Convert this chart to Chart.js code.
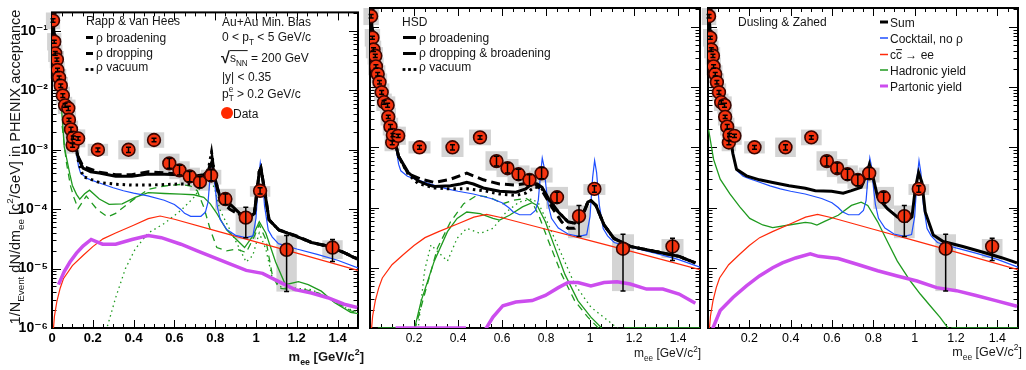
<!DOCTYPE html>
<html><head><meta charset="utf-8">
<script src="https://cdn.jsdelivr.net/npm/chart.js@4.4.1/dist/chart.umd.min.js"></script>
<style>
html,body{margin:0;padding:0;background:#fff;}
body{width:1026px;height:370px;position:relative;overflow:hidden;}
canvas{position:absolute;top:0;}
</style></head>
<body>
<canvas id="c1" width="366" height="370" style="left:0px"></canvas>
<canvas id="c2" width="346" height="370" style="left:362px"></canvas>
<canvas id="c3" width="326" height="370" style="left:700px"></canvas>
<script>
// ---------------- data (m_ee in GeV/c^2, yields) ----------------
const DATA_M = [0.005,0.011,0.016,0.024,0.027,0.035,0.043,0.053,0.064,0.08,0.083,0.093,0.101,0.104,0.128,0.225,0.375,0.5,0.575,0.625,0.675,0.725,0.78,0.85,0.95,1.02,1.15,1.375];
const DATA_Y = [0.15,0.066,0.042,0.033,0.022,0.0164,0.012,0.0082,0.0056,0.005,0.0032,0.0022,0.0012,0.0016,0.00155,0.001,0.001,0.00146,0.00059,0.00045,0.000357,0.000288,0.00037,0.000148,0.000072,0.000204,0.0000207,0.0000226];
const STAT_LO = [0.14,0.062,0.039,0.031,0.0205,0.0153,0.0112,0.0076,0.0052,0.0046,0.003,0.002,0.0011,0.0015,0.00145,0.00093,0.0009,0.00136,0.00049,0.000375,0.00029,0.00023,0.0003,0.00012,0.000033,0.00018,0.0000041,0.0000132];
const STAT_HI = [0.16,0.07,0.045,0.035,0.0235,0.0175,0.0128,0.0088,0.006,0.0054,0.0034,0.0024,0.0013,0.0017,0.00165,0.00107,0.0011,0.00156,0.00071,0.00055,0.00043,0.00035,0.00046,0.00018,0.000108,0.00023,0.000036,0.000031];
const SYS_LO = [0.107,0.047,0.03,0.0236,0.0157,0.0117,0.0086,0.0059,0.004,0.0036,0.0023,0.00157,0.00086,0.00114,0.0011,0.00079,0.00069,0.00108,0.00041,0.00032,0.00025,0.000205,0.00026,0.000095,0.000031,0.000162,0.0000041,0.0000145];
const SYS_HI = [0.21,0.092,0.059,0.046,0.031,0.023,0.0168,0.0115,0.0078,0.007,0.0045,0.0031,0.0017,0.0022,0.0022,0.00126,0.00145,0.00197,0.00086,0.00064,0.0005,0.00041,0.00046,0.00022,0.000108,0.000245,0.000036,0.00003];
const SYS_HW = [0.035,0.035,0.035,0.035,0.035,0.035,0.035,0.035,0.035,0.035,0.035,0.035,0.035,0.035,0.035,0.05,0.05,0.05,0.05,0.05,0.05,0.05,0.05,0.05,0.05,0.05,0.05,0.05];

// curves: [m, log10(yield)]
const LOW_MASS = [[0.003,-0.8],[0.008,-0.95],[0.012,-1.15],[0.016,-1.35],[0.024,-1.5],[0.03,-1.65],[0.035,-1.78],[0.043,-1.93],[0.053,-2.09],[0.064,-2.25],[0.075,-2.4],[0.085,-2.52],[0.095,-2.67],[0.105,-2.8],[0.113,-2.92]];
const COCKTAIL = LOW_MASS.concat([[0.12,-3.05],[0.13,-3.28],[0.14,-3.39],[0.17,-3.48],[0.2,-3.52],[0.233,-3.56],[0.3,-3.64],[0.35,-3.69],[0.4,-3.73],[0.47,-3.775],[0.55,-3.85],[0.6,-3.92],[0.63,-4.0],[0.65,-4.07],[0.68,-4.12],[0.73,-4.12],[0.752,-4.05],[0.765,-3.88],[0.775,-3.45],[0.783,-3.18],[0.79,-3.3],[0.8,-3.65],[0.81,-3.95],[0.825,-4.18],[0.856,-4.34],[0.9,-4.44],[0.95,-4.48],[0.985,-4.45],[1.0,-4.15],[1.012,-3.5],[1.021,-3.22],[1.03,-3.42],[1.042,-3.95],[1.06,-4.35],[1.08,-4.47],[1.11,-4.58],[1.2,-4.67],[1.3,-4.76],[1.4,-4.86],[1.5,-4.99]]);
const CHARM = [[0.005,-6.1],[0.012,-5.8],[0.024,-5.55],[0.04,-5.33],[0.056,-5.17],[0.1,-4.95],[0.152,-4.78],[0.2,-4.63],[0.25,-4.5],[0.312,-4.4],[0.4,-4.27],[0.472,-4.16],[0.53,-4.115],[0.6,-4.17],[0.8,-4.36],[1.0,-4.55],[1.2,-4.74],[1.5,-5.03]];

// Rapp & van Hees
const RVH_BROAD = LOW_MASS.concat([[0.12,-3.0],[0.13,-3.15],[0.152,-3.31],[0.19,-3.37],[0.232,-3.39],[0.312,-3.445],[0.392,-3.445],[0.472,-3.41],[0.552,-3.41],[0.632,-3.42],[0.696,-3.445],[0.744,-3.42],[0.768,-3.34],[0.784,-3.2],[0.8,-3.5],[0.824,-3.8],[0.872,-3.91],[0.92,-4.07],[0.968,-4.13],[0.992,-4.07],[1.005,-3.7],[1.016,-3.37],[1.024,-3.31],[1.04,-3.64],[1.064,-4.18],[1.112,-4.35],[1.192,-4.45],[1.272,-4.56],[1.352,-4.62],[1.432,-4.73],[1.496,-4.84]]);
const RVH_DROP = LOW_MASS.concat([[0.12,-3.0],[0.13,-3.13],[0.152,-3.28],[0.232,-3.38],[0.312,-3.42],[0.392,-3.42],[0.472,-3.37],[0.552,-3.39],[0.632,-3.41],[0.696,-3.46],[0.744,-3.45],[0.768,-3.34],[0.784,-3.12],[0.8,-3.5],[0.824,-3.86],[0.872,-4.0],[0.92,-4.1],[0.968,-4.14],[0.992,-4.07],[1.005,-3.7],[1.016,-3.37],[1.024,-3.31],[1.04,-3.64],[1.064,-4.18],[1.112,-4.35],[1.192,-4.44],[1.272,-4.56],[1.352,-4.63],[1.432,-4.73],[1.496,-4.83]]);
const RVH_VAC = LOW_MASS.concat([[0.12,-3.02],[0.13,-3.2],[0.152,-3.45],[0.232,-3.55],[0.312,-3.58],[0.392,-3.595],[0.472,-3.595],[0.552,-3.585],[0.632,-3.575],[0.696,-3.585],[0.744,-3.5],[0.768,-3.3],[0.782,-3.04],[0.8,-3.48],[0.824,-3.82],[0.872,-3.95],[0.92,-4.09],[0.968,-4.13],[0.992,-4.07],[1.005,-3.7],[1.016,-3.37],[1.024,-3.31],[1.04,-3.64],[1.064,-4.18],[1.112,-4.35],[1.192,-4.45],[1.272,-4.56],[1.352,-4.62],[1.432,-4.73],[1.496,-4.84]]);
const RVH_HAD_BROAD = [[0.04,-2.05],[0.05,-2.45],[0.06,-2.95],[0.075,-3.2],[0.088,-3.42],[0.1,-3.6],[0.12,-3.75],[0.136,-3.83],[0.16,-3.74],[0.184,-3.68],[0.232,-3.83],[0.28,-3.92],[0.344,-3.91],[0.408,-3.8],[0.472,-3.72],[0.552,-3.736],[0.632,-3.747],[0.696,-3.757],[0.744,-3.8],[0.776,-3.91],[0.808,-4.07],[0.856,-4.346],[0.904,-4.51],[0.944,-4.646],[0.984,-4.455],[1.016,-4.21],[1.048,-4.4],[1.096,-4.89],[1.144,-5.27],[1.208,-5.22],[1.256,-5.27],[1.32,-5.38],[1.384,-5.57],[1.464,-5.735],[1.504,-5.76]];
const RVH_HAD_DROP = [[0.05,-2.6],[0.07,-3.2],[0.09,-3.6],[0.107,-3.8],[0.128,-3.99],[0.168,-3.78],[0.22,-4.0],[0.272,-4.13],[0.312,-4.07],[0.392,-3.856],[0.472,-3.665],[0.552,-3.61],[0.632,-3.583],[0.68,-3.61],[0.712,-3.69],[0.744,-3.965],[0.776,-4.346],[0.808,-4.646],[0.856,-4.7],[0.904,-4.67],[0.952,-4.73],[0.992,-4.455],[1.016,-4.26],[1.048,-4.51],[1.08,-5.11],[1.112,-5.33],[1.176,-5.354],[1.24,-5.354],[1.304,-5.41],[1.384,-5.545],[1.464,-5.71],[1.504,-5.75]];
const RVH_HAD_VAC = [[0.265,-6.05],[0.312,-5.49],[0.36,-5.0],[0.408,-4.67],[0.472,-4.4],[0.552,-4.237],[0.632,-4.02],[0.696,-3.8],[0.744,-3.556],[0.776,-3.474],[0.8,-3.69],[0.824,-4.02],[0.872,-4.346],[0.92,-4.67],[0.952,-4.89],[0.984,-4.78],[1.016,-4.4],[1.048,-4.67],[1.08,-5.16],[1.128,-5.33],[1.192,-5.33],[1.272,-5.354],[1.352,-5.49],[1.432,-5.654],[1.504,-5.735]];
const RVH_PARTONIC = [[0.032,-5.27],[0.06,-5.05],[0.088,-4.89],[0.12,-4.74],[0.152,-4.62],[0.192,-4.51],[0.22,-4.55],[0.248,-4.59],[0.312,-4.59],[0.392,-4.51],[0.472,-4.444],[0.536,-4.48],[0.632,-4.59],[0.712,-4.7],[0.792,-4.81],[0.872,-4.92],[0.952,-5.03],[1.032,-5.08],[1.112,-5.22],[1.192,-5.354],[1.272,-5.41],[1.352,-5.49],[1.432,-5.6],[1.496,-5.654]];

// HSD
const HSD_BROAD = LOW_MASS.concat([[0.12,-3.0],[0.13,-3.15],[0.174,-3.42],[0.218,-3.556],[0.26,-3.62],[0.292,-3.65],[0.366,-3.64],[0.411,-3.61],[0.44,-3.583],[0.47,-3.61],[0.515,-3.676],[0.589,-3.73],[0.663,-3.747],[0.708,-3.69],[0.737,-3.6],[0.76,-3.61],[0.782,-3.665],[0.812,-3.856],[0.856,-4.074],[0.9,-4.237],[0.93,-4.26],[0.96,-4.18],[0.99,-3.91],[1.004,-3.883],[1.027,-3.965],[1.064,-4.29],[1.108,-4.51],[1.183,-4.646],[1.257,-4.7],[1.331,-4.755],[1.405,-4.81],[1.479,-4.92]]);
const HSD_DROP = LOW_MASS.concat([[0.12,-3.0],[0.13,-3.15],[0.174,-3.44],[0.233,-3.53],[0.292,-3.583],[0.366,-3.53],[0.44,-3.43],[0.515,-3.54],[0.589,-3.61],[0.663,-3.627],[0.723,-3.594],[0.752,-3.61],[0.782,-3.72],[0.826,-3.99],[0.871,-4.237],[0.9,-4.346],[0.93,-4.346],[0.96,-4.2],[0.99,-3.92],[1.004,-3.883],[1.027,-3.965],[1.064,-4.29],[1.108,-4.51],[1.183,-4.646],[1.257,-4.7],[1.331,-4.755],[1.405,-4.81],[1.479,-4.92]]);
const HSD_VAC = LOW_MASS.concat([[0.12,-3.0],[0.13,-3.15],[0.174,-3.45],[0.218,-3.6],[0.292,-3.676],[0.366,-3.69],[0.44,-3.69],[0.515,-3.72],[0.589,-3.774],[0.663,-3.8],[0.708,-3.76],[0.75,-3.66],[0.78,-3.68],[0.812,-3.86],[0.856,-4.074],[0.9,-4.237],[0.93,-4.26],[0.96,-4.18],[0.99,-3.91],[1.004,-3.883],[1.027,-3.965],[1.064,-4.29],[1.108,-4.51],[1.183,-4.646],[1.257,-4.7],[1.331,-4.755],[1.405,-4.81],[1.479,-4.92]]);
const HSD_HAD_BROAD = [[0.036,-6],[0.203,-6],[0.233,-5.545],[0.292,-4.89],[0.352,-4.4],[0.396,-4.18],[0.44,-4.074],[0.5,-4.1],[0.559,-4.18],[0.589,-4.21],[0.634,-4.128],[0.693,-3.99],[0.737,-3.92],[0.76,-3.965],[0.797,-4.237],[0.841,-4.67],[0.886,-5.11],[0.945,-5.545],[1.004,-5.82],[1.064,-6.04],[1.11,null],[1.156,-6],[1.5,-6]];
const HSD_HAD_DROP = [[0.203,-6.04],[0.248,-5.44],[0.307,-4.67],[0.366,-4.237],[0.426,-3.937],[0.485,-3.8],[0.545,-3.83],[0.604,-3.937],[0.648,-3.883],[0.708,-3.845],[0.737,-3.91],[0.767,-4.128],[0.812,-4.564],[0.871,-5.11],[0.93,-5.545],[0.99,-5.82],[1.049,-6.04]];
const HSD_HAD_VAC = [[0.218,-6.04],[0.248,-5.05],[0.277,-4.62],[0.307,-4.73],[0.352,-4.89],[0.396,-4.51],[0.44,-4.346],[0.5,-4.43],[0.559,-4.346],[0.619,-4.074],[0.678,-3.91],[0.737,-3.856],[0.767,-3.937],[0.812,-4.29],[0.871,-4.78],[0.93,-5.27],[1.004,-5.654],[1.079,-5.87],[1.138,-6.04]];
const HSD_PARTONIC = [[0.116,-6],[0.436,-6],[0.48,null],[0.522,-6.04],[0.559,-5.82],[0.604,-5.63],[0.663,-5.57],[0.737,-5.545],[0.797,-5.46],[0.856,-5.33],[0.9,-5.245],[0.945,-5.245],[1.004,-5.3],[1.064,-5.245],[1.123,-5.234],[1.183,-5.27],[1.257,-5.354],[1.331,-5.354],[1.405,-5.436],[1.479,-5.59]];

// Dusling & Zahed
const DZ_SUM = LOW_MASS.concat([[0.12,-3.1],[0.138,-3.365],[0.186,-3.474],[0.249,-3.54],[0.313,-3.583],[0.392,-3.64],[0.471,-3.68],[0.519,-3.72],[0.598,-3.73],[0.654,-3.763],[0.694,-3.72],[0.741,-3.665],[0.765,-3.474],[0.781,-3.283],[0.797,-3.474],[0.821,-3.83],[0.868,-4.02],[0.916,-4.155],[0.963,-4.226],[0.987,-4.155],[1.003,-3.69],[1.019,-3.42],[1.035,-3.583],[1.051,-4.074],[1.09,-4.455],[1.138,-4.564],[1.233,-4.646],[1.344,-4.755],[1.424,-4.837],[1.495,-4.92]]);
const DZ_HADRONIC = [[0.003,-2.71],[0.027,-3.2],[0.059,-3.53],[0.106,-3.774],[0.154,-3.99],[0.202,-4.18],[0.265,-4.29],[0.313,-4.335],[0.392,-4.29],[0.471,-4.248],[0.5,-4.26],[0.527,-4.29],[0.567,-4.226],[0.63,-4.128],[0.694,-3.965],[0.741,-3.91],[0.773,-3.965],[0.821,-4.237],[0.868,-4.564],[0.916,-4.89],[0.979,-5.22],[1.027,-5.436],[1.075,-5.63],[1.122,-5.82],[1.17,-6.04],[1.18,-6],[1.5,-6]];
const DZ_PARTONIC = [[0.019,-6.04],[0.059,-5.71],[0.122,-5.49],[0.186,-5.3],[0.249,-5.136],[0.313,-5.0],[0.36,-4.92],[0.424,-4.837],[0.495,-4.77],[0.535,-4.81],[0.63,-4.847],[0.725,-4.945],[0.821,-5.05],[0.916,-5.136],[1.011,-5.22],[1.106,-5.33],[1.202,-5.38],[1.297,-5.46],[1.392,-5.545],[1.495,-5.64]];

// axes
const X_TICKS = [0,0.2,0.4,0.6,0.8,1,1.2,1.4];
const X_TICK_LABELS = ['0','0.2','0.4','0.6','0.8','1','1.2','1.4'];
const Y_TICKS = [1e-6,1e-5,1e-4,1e-3,1e-2,1e-1];
const Y_TICK_LABELS = ['10\u207B\u2076','10\u207B\u2075','10\u207B\u2074','10\u207B\u00B3','10\u207B\u00B2','10\u207B\u00B9'];
const Y_MIN = 1e-6, Y_MAX = 0.2053, X_MIN = 0, X_MAX = 1.5;

// ---------------- styling ----------------
const FAM = "'Liberation Sans', Arial, 'DejaVu Sans', sans-serif";
Chart.defaults.font.family = FAM;
const C = {black:'#000000', blue:'#1f4fff', red:'#ff2a0a', green:'#1f9a1f', mag:'#cc4dee', txt:'#151515'};

function toPts(arr){ return arr.map(p => ({x:p[0], y: p[1]===null ? null : Math.pow(10,p[1])})); }

function drawRich(ctx, parts, x, y, o){
  const size=o.size, weight=o.weight||'normal', align=o.align||'left';
  const f=(s,w)=>`${w||weight} ${s}px ${FAM}`;
  const items=[]; let w=0, ovs=null; const overs=[];
  for(const p of parts){
    if(typeof p==='string'){ ctx.font=f(size); items.push({t:p,x:w,dy:0,font:f(size)}); w+=ctx.measureText(p).width; }
    else if(p.ob){ ovs=w; }
    else if(p.oe){ overs.push([ovs,w,p.h||0.8]); }
    else if(p.big){ const fs=size*p.scale; ctx.font=f(fs,p.w); items.push({t:p.big,x:w,dy:p.dy||0,font:f(fs,p.w)}); w+=ctx.measureText(p.big).width+(p.pad||0); }
    else { const ss=size*0.68; ctx.font=f(ss); let ww=0;
      if(p.sub!==undefined){ items.push({t:p.sub,x:w,dy:size*0.3,font:f(ss)}); ww=Math.max(ww,ctx.measureText(p.sub).width); }
      if(p.sup!==undefined){ items.push({t:p.sup,x:w,dy:-size*0.45,font:f(ss)}); ww=Math.max(ww,ctx.measureText(p.sup).width); }
      w+=ww; }
  }
  const x0 = align==='right'? x-w : align==='center'? x-w/2 : x;
  ctx.fillStyle=o.color||C.txt; ctx.textBaseline='alphabetic'; ctx.textAlign='left';
  for(const it of items){ ctx.font=it.font; ctx.fillText(it.t, x0+it.x, y+it.dy); }
  for(const ov of overs){ ctx.strokeStyle=o.color||C.txt; ctx.lineWidth=1; ctx.beginPath(); ctx.moveTo(x0+ov[0], y-size*ov[2]); ctx.lineTo(x0+ov[1], y-size*ov[2]); ctx.stroke(); }
}

function drawItem(ctx,it){
  ctx.save();
  if(it.type==='text'){ drawRich(ctx,it.parts,it.x,it.y,it); }
  else if(it.type==='rot'){ ctx.translate(it.x,it.y); ctx.rotate(-Math.PI/2); drawRich(ctx,it.parts,0,0,it); }
  else if(it.type==='seg'){ ctx.strokeStyle=it.color; ctx.lineWidth=it.w; ctx.setLineDash(it.dash||[]); ctx.beginPath(); ctx.moveTo(it.x1,it.y); ctx.lineTo(it.x2,it.y); ctx.stroke(); }
  else if(it.type==='dots'){ ctx.fillStyle=it.color; it.xs.forEach(x=>ctx.fillRect(x-1.4,it.y-1.4,2.8,2.8)); }
  else if(it.type==='marker'){ ctx.beginPath(); ctx.arc(it.x,it.y,6,0,Math.PI*2); ctx.fillStyle='#ff2a00'; ctx.fill(); }
  ctx.restore();
}

function drawBoxes(chart){
  const {ctx, chartArea:a, scales:{x,y}} = chart;
  ctx.save(); ctx.beginPath(); ctx.rect(a.left-10,a.top,a.right-a.left+10,a.bottom-a.top); ctx.clip();
  ctx.fillStyle='#d4d4d4';
  DATA_M.forEach((m,i)=>{
    const x1=x.getPixelForValue(m-SYS_HW[i]), x2=x.getPixelForValue(m+SYS_HW[i]);
    const y1=y.getPixelForValue(SYS_HI[i]), y2=y.getPixelForValue(SYS_LO[i]);
    ctx.fillRect(x1,y1,x2-x1,y2-y1);
  });
  ctx.restore();
}
function drawFrame(chart){
  const {ctx, chartArea:a, scales:{x,y}} = chart;
  ctx.save(); ctx.strokeStyle='#000'; ctx.lineWidth=1; ctx.beginPath();
  for(let k=0;k<=30;k++){ const px=Math.round(x.getPixelForValue(k*0.05))+0.5; const L=(k%4===0)?8:4;
    ctx.moveTo(px,a.bottom); ctx.lineTo(px,a.bottom-L); ctx.moveTo(px,a.top); ctx.lineTo(px,a.top+L); }
  for(let d=-6; d<=-1; d++){ for(let j=1;j<=9;j++){ const v=j*Math.pow(10,d); if(v>Y_MAX) break;
    const py=Math.round(y.getPixelForValue(v))+0.5; const L=(j===1)?9:4.5;
    ctx.moveTo(a.left,py); ctx.lineTo(a.left+L,py); ctx.moveTo(a.right,py); ctx.lineTo(a.right-L,py); } }
  ctx.stroke();
  ctx.lineWidth=2; ctx.strokeRect(a.left,a.top,a.right-a.left,a.bottom-a.top);
  ctx.restore();
}
function drawErrorBars(chart){
  const {ctx, chartArea:a, scales:{x,y}} = chart;
  ctx.save(); ctx.beginPath(); ctx.rect(a.left-8,a.top,a.right-a.left+8,a.bottom-a.top+2); ctx.clip();
  ctx.strokeStyle='#000'; ctx.lineWidth=1.5; ctx.beginPath();
  DATA_M.forEach((m,i)=>{
    const px=x.getPixelForValue(m), y1=y.getPixelForValue(STAT_HI[i]), y2=y.getPixelForValue(STAT_LO[i]);
    ctx.moveTo(px,y1); ctx.lineTo(px,y2);
    ctx.moveTo(px-2.5,y1); ctx.lineTo(px+2.5,y1); ctx.moveTo(px-2.5,y2); ctx.lineTo(px+2.5,y2);
  });
  ctx.stroke(); ctx.restore();
}

function makePanel(id, cfg){
  const datasets=[{type:'scatter', label:'Data', data:DATA_M.map((m,i)=>({x:m,y:DATA_Y[i]})),
    pointRadius:6.4, pointBackgroundColor:'#f5330f', pointBorderColor:'#3a0500', pointBorderWidth:1.6, showLine:false, order:0}];
  cfg.lines.forEach((l,k)=>datasets.push({type:'line', label:l.label, data:toPts(l.data), borderColor:l.color,
    borderWidth:l.w, borderDash:l.dash||[], borderCapStyle:'butt', pointRadius:0, fill:false, tension:0, spanGaps:false, order:1+k}));
  const plugin={ id:'panel_'+id,
    beforeDatasetsDraw(chart){ drawBoxes(chart); drawFrame(chart); },
    afterDatasetsDraw(chart){ drawErrorBars(chart); },
    afterDraw(chart){ const ctx=chart.ctx; ctx.save(); ctx.translate(-cfg.offset,0); cfg.items.forEach(it=>drawItem(ctx,it)); ctx.restore(); }
  };
  return new Chart(document.getElementById(id), {
    type:'line', data:{datasets},
    options:{ responsive:false, animation:false, events:[],
      layout:{padding:{left:cfg.padL, right:cfg.padR, top:5, bottom:0}},
      plugins:{legend:{display:false}, tooltip:{enabled:false}},
      scales:{
        x:{type:'linear', min:X_MIN, max:X_MAX, grid:{display:false, drawTicks:false}, border:{display:false},
          afterBuildTicks:s=>{ s.ticks=cfg.xTicks.map(v=>({value:v})); },
          afterFit:s=>{ s.height=42; },
          ticks:{autoSkip:false, maxRotation:0, padding:3, color:'#000', font:cfg.xFont,
            callback:v=>X_TICK_LABELS[X_TICKS.indexOf(v)]}},
        y:{type:'logarithmic', min:Y_MIN, max:Y_MAX, grid:{display:false, drawTicks:false}, border:{display:false},
          afterBuildTicks:s=>{ s.ticks=Y_TICKS.map(v=>({value:v})); },
          afterFit:s=>{ s.width=cfg.yWidth; },
          ticks:{display:cfg.yLabels, autoSkip:false, padding:4, color:'#000', font:{size:14, weight:'bold'},
            callback:v=>Y_TICK_LABELS[Y_TICKS.indexOf(v)]}}
      }
    },
    plugins:[plugin]
  });
}

const XT_TITLE = ['m',{sub:'ee'},' [GeV/c',{sup:'2'},']'];

// Panel 1: Rapp & van Hees
makePanel('c1',{offset:0, padL:0, padR:2, yWidth:52, yLabels:true, xTicks:X_TICKS, xFont:{size:13, weight:'bold'},
  lines:[
    {label:'ρ broadening', data:RVH_BROAD, color:C.black, w:3},
    {label:'ρ dropping', data:RVH_DROP, color:C.black, w:3, dash:[9,5]},
    {label:'ρ vacuum', data:RVH_VAC, color:C.black, w:3, dash:[2.5,4]},
    {label:'Cocktail, no ρ', data:COCKTAIL, color:C.blue, w:1.2},
    {label:'Partonic yield', data:RVH_PARTONIC, color:C.mag, w:3.5},
    {label:'cc̄ → ee', data:CHARM, color:C.red, w:1.2},
    {label:'Hadronic (broadening)', data:RVH_HAD_BROAD, color:C.green, w:1.3},
    {label:'Hadronic (dropping)', data:RVH_HAD_DROP, color:C.green, w:1.3, dash:[7,5]},
    {label:'Hadronic (vacuum)', data:RVH_HAD_VAC, color:C.green, w:1.3, dash:[1.5,3.5]}
  ],
  items:[
    {type:'rot', x:19.5, y:167, size:14.5, align:'center', parts:['1/N',{sub:'Event'},' dN/dm',{sub:'ee'},' [c',{sup:'2'},'/GeV] in PHENIX acceptance']},
    {type:'text', x:364, y:361, size:13, weight:'bold', align:'right', parts:XT_TITLE},
    {type:'text', x:86, y:25, size:12, parts:['Rapp & van Hees']},
    {type:'seg', x1:86, x2:93, y:37.5, color:'#000', w:3},
    {type:'text', x:96, y:42, size:12, parts:['ρ broadening']},
    {type:'seg', x1:86, x2:93, y:53.5, color:'#000', w:3},
    {type:'text', x:96, y:57, size:12, parts:['ρ dropping']},
    {type:'dots', xs:[87,92], y:69.5, color:'#000'},
    {type:'text', x:96, y:71, size:12, parts:['ρ vacuum']},
    {type:'text', x:222, y:26, size:12, parts:['Au+Au Min. Bias']},
    {type:'text', x:222, y:41, size:12, parts:['0 < p',{sub:'T'},' < 5 GeV/c']},
    {type:'text', x:221, y:62, size:12, parts:[{big:'√', scale:1.35, w:'bold', dy:1}, {ob:1}, 's',{sub:'NN'},{oe:1, h:0.95},' = 200 GeV']},
    {type:'text', x:222, y:81, size:12, parts:['|y| < 0.35']},
    {type:'text', x:222, y:97.5, size:12, parts:['p',{sub:'T', sup:'e'},' > 0.2 GeV/c']},
    {type:'marker', x:227, y:113},
    {type:'text', x:233, y:117.5, size:12, parts:['Data']}
  ]});

// Panel 2: HSD
makePanel('c2',{offset:362, padL:5, padR:4, yWidth:0, yLabels:false, xTicks:X_TICKS.slice(1), xFont:{size:12},
  lines:[
    {label:'ρ broadening', data:HSD_BROAD, color:C.black, w:3},
    {label:'ρ dropping & broadening', data:HSD_DROP, color:C.black, w:3, dash:[9,5]},
    {label:'ρ vacuum', data:HSD_VAC, color:C.black, w:3, dash:[2.5,4]},
    {label:'Cocktail, no ρ', data:COCKTAIL, color:C.blue, w:1.2},
    {label:'Partonic yield', data:HSD_PARTONIC, color:C.mag, w:3.5},
    {label:'cc̄ → ee', data:CHARM, color:C.red, w:1.2},
    {label:'Hadronic (broadening)', data:HSD_HAD_BROAD, color:C.green, w:1.3},
    {label:'Hadronic (dropping)', data:HSD_HAD_DROP, color:C.green, w:1.3, dash:[7,5]},
    {label:'Hadronic (vacuum)', data:HSD_HAD_VAC, color:C.green, w:1.3, dash:[1.5,3.5]}
  ],
  items:[
    {type:'text', x:701, y:357, size:12, align:'right', parts:XT_TITLE},
    {type:'text', x:402, y:26, size:12, parts:['HSD']},
    {type:'seg', x1:403, x2:416, y:37.5, color:'#000', w:3},
    {type:'text', x:419, y:42, size:12, parts:['ρ broadening']},
    {type:'seg', x1:403, x2:416, y:53.5, color:'#000', w:3},
    {type:'text', x:419, y:57, size:12, parts:['ρ dropping & broadening']},
    {type:'dots', xs:[404,409.5,415], y:69.5, color:'#000'},
    {type:'text', x:419, y:71, size:12, parts:['ρ vacuum']}
  ]});

// Panel 3: Dusling & Zahed
makePanel('c3',{offset:700, padL:5, padR:6, yWidth:0, yLabels:false, xTicks:X_TICKS.slice(1), xFont:{size:12.5},
  lines:[
    {label:'Sum', data:DZ_SUM, color:C.black, w:3},
    {label:'Cocktail, no ρ', data:COCKTAIL, color:C.blue, w:1.2},
    {label:'Partonic yield', data:DZ_PARTONIC, color:C.mag, w:3.5},
    {label:'cc̄ → ee', data:CHARM, color:C.red, w:1.2},
    {label:'Hadronic yield', data:DZ_HADRONIC, color:C.green, w:1.3}
  ],
  items:[
    {type:'text', x:1022, y:356, size:12.5, align:'right', parts:XT_TITLE},
    {type:'text', x:738, y:26, size:12, parts:['Dusling & Zahed']},
    {type:'seg', x1:880, x2:888, y:22, color:C.black, w:3},
    {type:'text', x:890, y:26.5, size:12, parts:['Sum']},
    {type:'seg', x1:880, x2:888, y:38, color:C.blue, w:1.5},
    {type:'text', x:890, y:42.5, size:12, parts:['Cocktail, no ρ']},
    {type:'seg', x1:880, x2:888, y:54.5, color:C.red, w:1.5},
    {type:'text', x:890, y:59, size:12, parts:['c',{ob:1},'c',{oe:1, h:0.78},' → ee']},
    {type:'seg', x1:880, x2:888, y:70, color:C.green, w:1.5},
    {type:'text', x:890, y:74.5, size:12, parts:['Hadronic yield']},
    {type:'seg', x1:880, x2:888, y:86, color:C.mag, w:3},
    {type:'text', x:890, y:90.5, size:12, parts:['Partonic yield']}
  ]});
</script>
</body></html>
